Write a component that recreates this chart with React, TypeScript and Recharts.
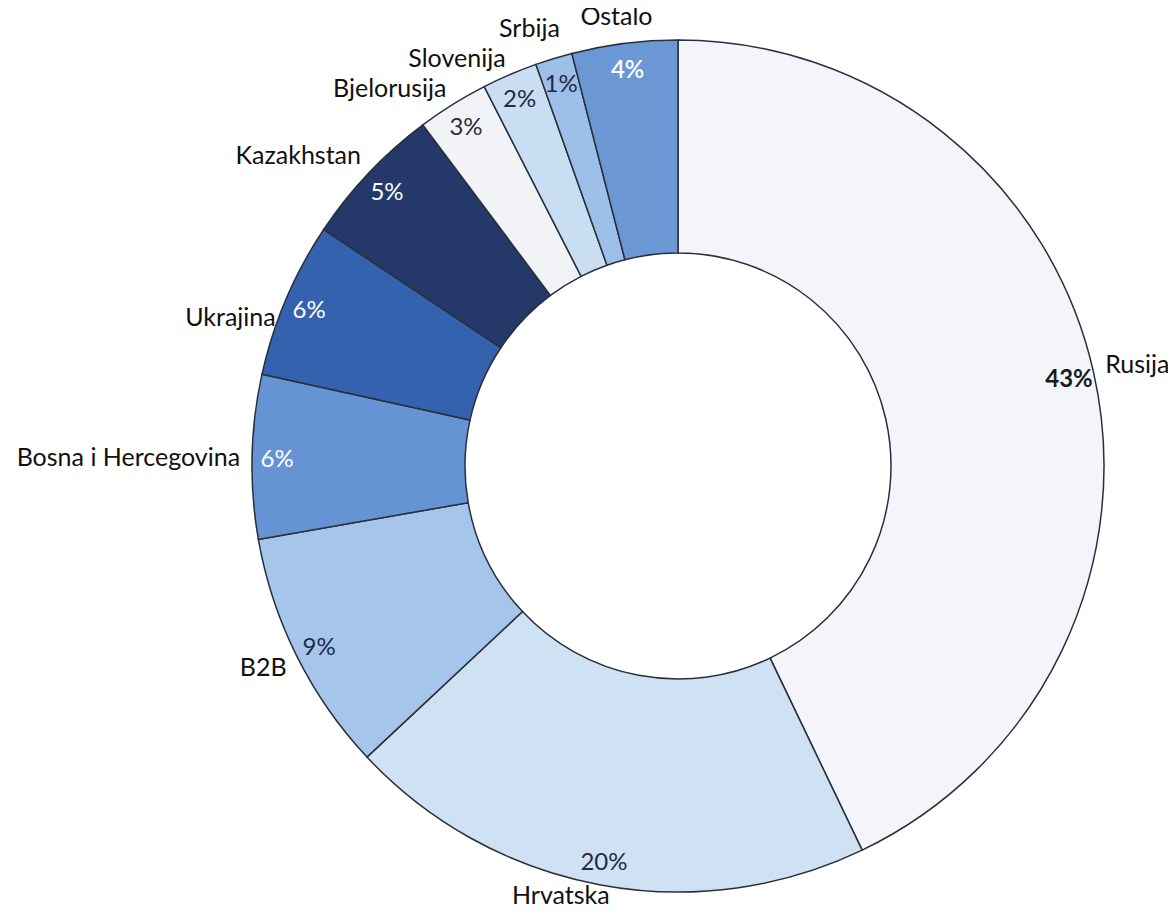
import React from "react";
import { PieChart, Pie, Cell } from "recharts";

const categories = [
  "Rusija",
  "Hrvatska",
  "B2B",
  "Bosna i Hercegovina",
  "Ukrajina",
  "Kazakhstan",
  "Bjelorusija",
  "Slovenija",
  "Srbija",
  "Ostalo",
];
const shares = [42.8, 20.1, 9.2, 6.2, 5.9, 5.4, 2.7, 2.1, 1.4, 4.0];
const pctLabels = ["43%", "20%", "9%", "6%", "6%", "5%", "3%", "2%", "1%", "4%"];

const colors = [
  "#f3f5fa",
  "#cfe2f4",
  "#a5c6ea",
  "#6693d3",
  "#3462ae",
  "#24396a",
  "#f1f3f7",
  "#c9def3",
  "#9dc0e8",
  "#6c97d5",
];
const pctColors = [
  "#1a1a1a",
  "#1f2b45",
  "#1f2b45",
  "#ffffff",
  "#ffffff",
  "#ffffff",
  "#2a2f3a",
  "#1f2b45",
  "#1f2b45",
  "#ffffff",
];
const pctWeights = [700, 400, 400, 400, 400, 400, 400, 400, 400, 600];
// small label nudges (px) to mirror the hand-placed labels in the original
const nameNudge: [number, number][] = [
  [4, -4],
  [-37, -9],
  [-3, 1],
  [-4, 0],
  [-3, 24],
  [-2, -6],
  [-2, -1],
  [-1, 0],
  [-22, -13],
  [-7, -10],
];

const data = categories.map((name, i) => ({ name, value: shares[i] }));

const RAD = Math.PI / 180;
const FONT = "Lato, 'Open Sans', sans-serif";

const renderLabel = (props: any) => {
  const { cx, cy, midAngle, outerRadius, index } = props;
  const ux = Math.cos(midAngle * RAD);
  const uy = -Math.sin(midAngle * RAD);
  const rp = outerRadius - 25;
  const px = cx + rp * ux;
  const py = cy + rp * uy;
  const rn = outerRadius + 8;
  const h = 22;
  const nx = cx + rn * ux + nameNudge[index][0];
  const ny = cy + rn * uy + (uy * h) / 2 + nameNudge[index][1];
  const anchor = ux > 0.33 ? "start" : ux < -0.33 ? "end" : "middle";
  return (
    <g key={`lbl-${index}`}>
      <text
        x={px}
        y={py}
        textAnchor="middle"
        dominantBaseline="central"
        fill={pctColors[index]}
        fontFamily={FONT}
        fontSize={24}
        fontWeight={pctWeights[index]}
      >
        {pctLabels[index]}
      </text>
      <text
        x={nx}
        y={ny}
        textAnchor={anchor}
        dominantBaseline="central"
        fill="#111111"
        fontFamily={FONT}
        fontSize={25}
      >
        {categories[index]}
      </text>
    </g>
  );
};

export default function App() {
  return (
    <div style={{ width: 1176, height: 920, margin: -8, background: "#ffffff", overflow: "hidden" }}>
      <PieChart width={1176} height={920}>
        <Pie
          data={data}
          dataKey="value"
          nameKey="name"
          cx={673}
          cy={461}
          innerRadius={213}
          outerRadius={426}
          startAngle={90}
          endAngle={-270}
          stroke="#2a2f3a"
          strokeWidth={1.5}
          label={renderLabel}
          labelLine={false}
          isAnimationActive={false}
        >
          {data.map((d, i) => (
            <Cell key={d.name} fill={colors[i]} />
          ))}
        </Pie>
      </PieChart>
    </div>
  );
}
